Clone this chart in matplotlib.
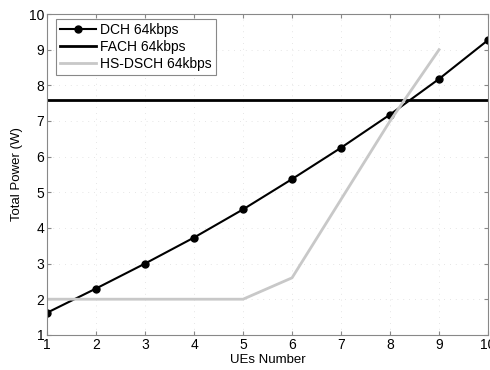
import matplotlib
matplotlib.use('Agg')
from matplotlib import pyplot as plt

plt.rcParams['font.family'] = ['Liberation Sans', 'DejaVu Sans']

"""Data
"""
ues = [1, 2, 3, 4, 5, 6, 7, 8, 9, 10]
dch = [1.62, 2.3, 3.0, 3.73, 4.52, 5.37, 6.25, 7.18, 8.18, 9.27]
fach = [7.6] * 10
hs_ues = [1, 2, 3, 4, 5, 6, 7, 8, 9]
hsdsch = [2.0, 2.0, 2.0, 2.0, 2.0, 2.6, 4.8, 7.0, 9.0]

"""Plot
"""
f = plt.figure(figsize=(4.9, 3.7), dpi=100)
ax = f.add_axes([0.096, 0.095, 0.9, 0.867])

ax.plot(ues, dch, color='k', marker='o', markersize=5, linewidth=1.5, label='DCH 64kbps')
ax.plot(ues, fach, color='k', linewidth=2, label='FACH 64kbps')
ax.plot(hs_ues, hsdsch, color='#c8c8c8', linewidth=2, label='HS-DSCH 64kbps')

ax.set_xlim(1, 10)
ax.set_ylim(1, 10)
ax.set_xticks(range(1, 11))
ax.set_yticks(range(1, 11))
ax.grid(True, linestyle=(0, (1, 6)), color='#dddddd', linewidth=0.6)
ax.tick_params(direction='in', top=True, right=True, labelsize=10, length=3, color='#888888', pad=2)
for s in ax.spines.values():
    s.set_color('#888888')
ax.set_xlabel('UEs Number', fontsize=9.5, labelpad=2)
ax.set_ylabel('Total Power (W)', fontsize=9.5, labelpad=4)

leg = ax.legend(loc='upper left', fontsize=10, fancybox=False, framealpha=1,
                edgecolor='#888888', handlelength=2.6, borderpad=0.3, labelspacing=0.2,
                handletextpad=0.3, borderaxespad=0, bbox_to_anchor=(0.02, 0.984))
leg.get_frame().set_linewidth(0.8)

f.savefig('out.png')
